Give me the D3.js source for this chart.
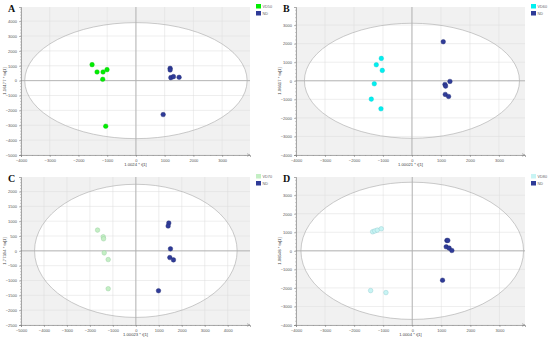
<!DOCTYPE html>
<html>
<head>
<meta charset="utf-8">
<script src="https://cdn.jsdelivr.net/npm/d3@7"></script>
<style>
  body { margin: 0; background: #fff; }
  svg { display: block; font-family: "Liberation Sans", Arial, sans-serif; }
</style>
</head>
<body>
<div id="chart"></div>
<script>
// panel letters, group labels and axis titles
var panelNames = ["A", "B", "C", "D"];
var groupNames = ["VD50", "VD60", "VD70", "VD80"];
var xTitles = ["1.0024 * t[1]", "1.00021 * t[1]", "1.00023 * t[1]", "1.0004 * t[1]"];
var yTitles = ["1.16177 * to[1]", "1.06617 * to[1]", "1.77394 * to[1]", "1.08548 * to[1]"];

// axis ranges and ticks
var xDomains = [[-4000, 3970], [-4000, 3900], [-5000, 4970], [-4000, 3880]];
var yDomains = [[-5000, 4950], [-4000, 3975], [-2500, 2490], [-4000, 3980]];
var xTickStep = [1000, 1000, 1000, 1000];
var yTickStep = [1000, 1000, 500, 1000];

// Hotelling T2 ellipse half axes (x, y)
var ellipses = [[3870, 3900], [3710, 3100], [4410, 2245], [3830, 3700]];

// score values: treated group (t1, to1)
var vdA = [[-1526, 1074], [-1353, 582], [-1145, 582], [-1006, 738], [-1156, 89], [-1052, -3065]];
var vdB = [[-1057, 1205], [-1230, 863], [-1023, 558], [-1299, -162], [-1402, -989], [-1069, -1511]];
var vdC = [[-1667, 700], [-1420, 475], [-1406, 407], [-1377, -68], [-1203, -294], [-1203, -1277]];
var vdD = [[-1363, 1027], [-1290, 1070], [-1203, 1117], [-1065, 1189], [-1432, -2144], [-905, -2252]];

// score values: ND group
var ndA = [[1191, 828], [1191, 716], [1214, 201], [1306, 268], [1503, 224], [948, -2282]];
var ndB = [[1080, 2104], [1138, -198], [1161, -288], [1310, -36], [1149, -737], [1264, -845]];
var ndC = [[1435, 938], [1406, 836], [1507, 68], [1478, -226], [1638, -305], [986, -1345]];
var ndD = [[1191, 559], [1224, 559], [1168, 216], [1271, 144], [1363, 18], [1042, -1586]];

var vdSets = [vdA, vdB, vdC, vdD];
var ndSets = [ndA, ndB, ndC, ndD];
var vdFill = ["#00ee00", "#00f0f0", "#c4efc4", "#c8f4f4"];
var vdStroke = ["#10c010", "#10c8d0", "#8fc89a", "#8cc8cc"];
var ndFill = "#2f3b98";

var width = 550, height = 341;
var svg = d3.select("#chart").append("svg")
  .attr("width", width).attr("height", height);

var panels = [
  {x: 0, y: 0}, {x: 275, y: 0}, {x: 0, y: 170}, {x: 275, y: 170}
];

function drawPanel(i) {
  var p = panels[i];
  var g = svg.append("g").attr("transform", "translate(" + p.x + "," + p.y + ")");
  var left = 21, right = 250, top = 7, bottom = 155;

  var x = d3.scaleLinear().domain(xDomains[i]).range([left, right]);
  var y = d3.scaleLinear().domain(yDomains[i]).range([bottom, top]);

  var clipId = "clip" + i;
  g.append("clipPath").attr("id", clipId).append("rect")
    .attr("x", left).attr("y", top).attr("width", right - left).attr("height", bottom - top);

  // grey plot area
  g.append("rect").attr("x", left).attr("y", top)
    .attr("width", right - left).attr("height", bottom - top)
    .attr("fill", "#f1f1f1");

  // white inside ellipse
  g.append("ellipse")
    .attr("cx", x(0)).attr("cy", y(0))
    .attr("rx", x(ellipses[i][0]) - x(0))
    .attr("ry", y(0) - y(ellipses[i][1]))
    .attr("fill", "#fff")
    .attr("clip-path", "url(#" + clipId + ")");

  var xt = d3.range(Math.ceil(xDomains[i][0] / xTickStep[i]) * xTickStep[i], xDomains[i][1] + 1, xTickStep[i]);
  var yt = d3.range(Math.ceil(yDomains[i][0] / yTickStep[i]) * yTickStep[i], yDomains[i][1] + 1, yTickStep[i]);

  // grid
  g.append("g").selectAll("line").data(xt).enter().append("line")
    .attr("x1", d => x(d)).attr("x2", d => x(d))
    .attr("y1", top).attr("y2", bottom)
    .attr("stroke", "#dcdcdc").attr("stroke-width", 0.5);
  g.append("g").selectAll("line").data(yt).enter().append("line")
    .attr("x1", left).attr("x2", right)
    .attr("y1", d => y(d)).attr("y2", d => y(d))
    .attr("stroke", "#dcdcdc").attr("stroke-width", 0.5);

  // ellipse outline
  g.append("ellipse")
    .attr("cx", x(0)).attr("cy", y(0))
    .attr("rx", x(ellipses[i][0]) - x(0))
    .attr("ry", y(0) - y(ellipses[i][1]))
    .attr("fill", "none").attr("stroke", "#a8a8a8").attr("stroke-width", 0.6)
    .attr("clip-path", "url(#" + clipId + ")");

  // zero lines
  g.append("line").attr("x1", x(0)).attr("x2", x(0)).attr("y1", top).attr("y2", bottom)
    .attr("stroke", "#b0b0b0").attr("stroke-width", 0.9);
  g.append("line").attr("x1", left).attr("x2", right).attr("y1", y(0)).attr("y2", y(0))
    .attr("stroke", "#b0b0b0").attr("stroke-width", 0.9);

  // axes
  var xAxis = d3.axisBottom(x).tickValues(xt).tickSize(2).tickPadding(2).tickFormat(d3.format("d"));
  var yAxis = d3.axisLeft(y).tickValues(yt).tickSize(2).tickPadding(2).tickFormat(d3.format("d"));
  var xa = g.append("g").attr("transform", "translate(0," + bottom + ")").call(xAxis);
  var ya = g.append("g").attr("transform", "translate(" + left + ",0)").call(yAxis);
  [xa, ya].forEach(function (a) {
    a.select(".domain").attr("stroke", "#777").attr("stroke-width", 0.6);
    a.selectAll(".tick line").attr("stroke", "#777").attr("stroke-width", 0.5);
    a.selectAll("text").attr("font-size", 4).attr("fill", "#555");
  });

  // minor ticks
  var xm = d3.range(xt[0] - xTickStep[i], xDomains[i][1], xTickStep[i] / 5)
    .filter(d => d >= xDomains[i][0] && d <= xDomains[i][1]);
  var ym = d3.range(yt[0] - yTickStep[i], yDomains[i][1], yTickStep[i] / 5)
    .filter(d => d >= yDomains[i][0] && d <= yDomains[i][1]);
  g.append("g").selectAll("line").data(xm).enter().append("line")
    .attr("x1", d => x(d)).attr("x2", d => x(d))
    .attr("y1", bottom).attr("y2", bottom + 1)
    .attr("stroke", "#888").attr("stroke-width", 0.4);
  g.append("g").selectAll("line").data(ym).enter().append("line")
    .attr("x1", left - 1).attr("x2", left)
    .attr("y1", d => y(d)).attr("y2", d => y(d))
    .attr("stroke", "#888").attr("stroke-width", 0.4);

  // arrow at x axis end
  g.append("path")
    .attr("d", "M" + (right - 3) + "," + (bottom - 1.3) + "L" + right + "," + bottom + "L" + (right - 3) + "," + (bottom + 1.3))
    .attr("fill", "none").attr("stroke", "#777").attr("stroke-width", 0.5);

  // axis titles
  g.append("text").attr("x", (left + right) / 2).attr("y", bottom + 11)
    .attr("text-anchor", "middle").attr("font-size", 4.2).attr("fill", "#444")
    .text(xTitles[i]);
  g.append("text")
    .attr("transform", "translate(6," + ((top + bottom) / 2) + ") rotate(-90)")
    .attr("text-anchor", "middle").attr("font-size", 4.2).attr("fill", "#444")
    .text(yTitles[i]);

  // points
  g.append("g").selectAll("circle").data(vdSets[i]).enter().append("circle")
    .attr("cx", d => x(d[0])).attr("cy", d => y(d[1])).attr("r", 2.3)
    .attr("fill", vdFill[i]).attr("stroke", vdStroke[i]).attr("stroke-width", 0.4);
  g.append("g").selectAll("circle").data(ndSets[i]).enter().append("circle")
    .attr("cx", d => x(d[0])).attr("cy", d => y(d[1])).attr("r", 2.3)
    .attr("fill", ndFill).attr("stroke", "#1e2870").attr("stroke-width", 0.4);

  // legend
  var lg = g.append("g").attr("transform", "translate(256,4)");
  lg.append("rect").attr("x", 0).attr("y", 0).attr("width", 5).attr("height", 4.5).attr("fill", vdFill[i]);
  lg.append("rect").attr("x", 0).attr("y", 7).attr("width", 5).attr("height", 4.5).attr("fill", ndFill);
  lg.append("text").attr("x", 6.5).attr("y", 4).attr("font-size", 3.8).attr("fill", "#666").text(groupNames[i]);
  lg.append("text").attr("x", 6.5).attr("y", 11).attr("font-size", 3.8).attr("fill", "#666").text("ND");

  // panel letter
  g.append("text").attr("x", 8).attr("y", 12)
    .attr("font-family", "'Liberation Serif', 'Times New Roman', serif")
    .attr("font-weight", "bold").attr("font-size", 10).attr("fill", "#111")
    .text(panelNames[i]);
}

for (var i = 0; i < 4; i++) drawPanel(i);
</script>
</body>
</html>
